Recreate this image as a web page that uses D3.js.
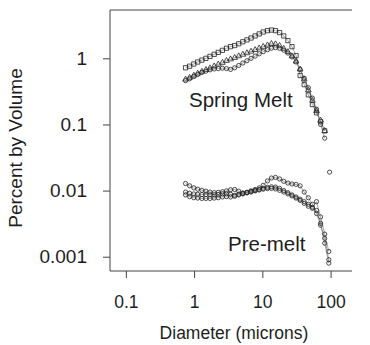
<!DOCTYPE html>
<html>
<head>
<meta charset="utf-8">
<script src="https://cdn.jsdelivr.net/npm/d3@7"></script>
<style>
  html, body { margin: 0; padding: 0; background: #fff; }
  svg { display: block; font-family: "Liberation Sans", Arial, sans-serif; }
</style>
</head>
<body>
<div id="chart"></div>
<script>
// particle diameter bins (microns)
const diameters = [0.75, 0.86, 0.99, 1.13, 1.3, 1.49, 1.71, 1.97, 2.26, 2.6, 2.98, 3.42,
  3.93, 4.51, 5.18, 5.95, 6.83, 7.84, 9.0, 10.3, 11.9, 13.6, 15.6, 17.9, 20.6, 23.7,
  27.2, 31.2, 35.8, 41.1, 47.2, 54.2, 62.2, 71.4, 82.0, 94.2];

// spring melt samples (percent by volume)
const springSquares = [0.72, 0.76, 0.82, 0.88, 0.94, 1.00, 1.07, 1.15, 1.23, 1.32, 1.42, 1.50,
  1.56, 1.66, 1.78, 1.90, 2.03, 2.18, 2.34, 2.50, 2.62, 2.68, 2.62, 2.45, 2.18, 1.85,
  1.50, 1.10, 0.55, 0.40, 0.28, 0.20, 0.15, 0.11, 0.08, null];
const springTriangles = [0.48, 0.51, 0.55, 0.59, 0.63, 0.67, 0.71, 0.76, 0.81, 0.86, 0.92, 0.97,
  1.02, 1.08, 1.14, 1.20, 1.27, 1.34, 1.42, 1.50, 1.58, 1.66, 1.64, 1.55, 1.40, 1.25,
  1.08, 0.90, 0.68, 0.48, 0.33, 0.23, 0.16, 0.115, 0.08, null];
const springCircles = [0.46, 0.49, 0.53, 0.57, 0.61, 0.64, 0.67, 0.69, 0.70, 0.71, 0.70, 0.68,
  0.72, 0.78, 0.85, 0.92, 1.00, 1.08, 1.17, 1.26, 1.35, 1.42, 1.45, 1.42, 1.33, 1.20,
  1.05, 0.88, 0.68, 0.50, 0.36, 0.25, 0.17, 0.10, 0.062, null];
const springOutlier = [{ d: 96.7, v: 0.019 }];

// pre-melt samples
const preA = [0.0128, 0.0118, 0.0110, 0.0105, 0.0101, 0.0098, 0.0095, 0.0093, 0.0094, 0.0096, 0.0099, 0.0103,
  0.0104, 0.0098, 0.0092, 0.0094, 0.0099, 0.0104, 0.0110, 0.0120, 0.0140, 0.0155, 0.0158, 0.0150, 0.0138, 0.0130,
  0.0126, 0.0124, 0.0118, 0.0095, 0.0078, 0.0062, 0.0045, 0.0030, 0.0019, 0.0009];
const preB = [0.0095, 0.0091, 0.0089, 0.0088, 0.0087, 0.0087, 0.0086, 0.0086, 0.0087, 0.0089, 0.0090, 0.0088,
  0.0085, 0.0088, 0.0091, 0.0094, 0.0097, 0.0100, 0.0104, 0.0108, 0.0112, 0.0114, 0.0113, 0.0108, 0.0100, 0.0093,
  0.0086, 0.0080, 0.0074, 0.0068, 0.0062, 0.0056, 0.0068, 0.0040, 0.0022, 0.0012];
const preC = [0.0086, 0.0081, 0.0078, 0.0077, 0.0076, 0.0076, 0.0076, 0.0077, 0.0078, 0.0080, 0.0081, 0.0080,
  0.0082, 0.0086, 0.0089, 0.0092, 0.0095, 0.0099, 0.0102, 0.0105, 0.0107, 0.0108, 0.0106, 0.0101, 0.0095, 0.0089,
  0.0083, 0.0077, 0.0071, 0.0064, 0.0058, 0.0054, 0.0050, 0.0032, 0.0016, 0.0008];

const xTicks = [0.1, 1, 10, 100];
const yTicks = [0.001, 0.01, 0.1, 1];

const W = 370, H = 345;
const plot = { left: 110, right: 352, top: 10, bottom: 271 };
const ink = '#1e1e1e';

const svg = d3.select('#chart').append('svg')
  .attr('width', W).attr('height', H);
svg.append('rect').attr('width', W).attr('height', H).attr('fill', '#fff');

const x = d3.scaleLog().domain([0.0586, 206]).range([plot.left, plot.right]);
const y = d3.scaleLog().domain([0.000608, 5.38]).range([plot.bottom, plot.top]);

// axes
const xAxis = svg.append('g')
  .attr('transform', `translate(0,${plot.bottom})`)
  .call(d3.axisBottom(x).tickValues(xTicks).tickFormat(d3.format('~g')).tickSize(7).tickPadding(18));
const yAxis = svg.append('g')
  .attr('transform', `translate(${plot.left},0)`)
  .call(d3.axisLeft(y).tickValues(yTicks).tickFormat(d3.format('~g')).tickSize(7).tickPadding(16));

[xAxis, yAxis].forEach(g => {
  g.select('.domain').remove();
  g.selectAll('line').attr('stroke', '#444').attr('stroke-width', 1);
  g.selectAll('text').attr('fill', ink).attr('font-family', '"Liberation Sans", Arial, sans-serif');
});
xAxis.selectAll('text').attr('font-size', 17.5);
yAxis.selectAll('text').attr('font-size', 19);

// frame: left, bottom, top
svg.append('path')
  .attr('d', `M${plot.right},${plot.top}H${plot.left}V${plot.bottom}H${plot.right}`)
  .attr('fill', 'none').attr('stroke', '#444').attr('stroke-width', 1);

// titles
svg.append('text')
  .attr('x', 234).attr('y', 339)
  .attr('text-anchor', 'middle').attr('font-size', 17.5).attr('fill', ink)
  .text('Diameter (microns)');
svg.append('text')
  .attr('transform', 'translate(22,148) rotate(-90)')
  .attr('text-anchor', 'middle').attr('font-size', 19).attr('fill', ink)
  .text('Percent by Volume');

svg.append('text').attr('x', 189).attr('y', 107)
  .attr('font-size', 20.5).attr('fill', ink).text('Spring Melt');
svg.append('text').attr('x', 228).attr('y', 251)
  .attr('font-size', 20.5).attr('fill', ink).text('Pre-melt');

// series
const series = [
  { vals: springSquares, shape: 'square' },
  { vals: springTriangles, shape: 'triangle' },
  { vals: springCircles, shape: 'circle' },
  { vals: preA, shape: 'circle' },
  { vals: preB, shape: 'circle' },
  { vals: preC, shape: 'circle' }
];

const line = d3.line()
  .defined(p => p.v != null)
  .x(p => x(p.d)).y(p => y(p.v));

const symbols = {
  square: d3.symbol().type(d3.symbolSquare).size(18),
  triangle: d3.symbol().type(d3.symbolTriangle).size(14),
  circle: d3.symbol().type(d3.symbolCircle).size(14)
};

series.forEach(s => {
  const pts = diameters.map((d, i) => ({ d, v: s.vals[i] }));
  svg.append('path')
    .attr('d', line(pts))
    .attr('fill', 'none').attr('stroke', '#666').attr('stroke-width', 0.6);
  svg.append('g').selectAll('path')
    .data(pts.filter(p => p.v != null))
    .join('path')
    .attr('transform', p => `translate(${x(p.d)},${y(p.v)})`)
    .attr('d', symbols[s.shape]())
    .attr('fill', 'none').attr('stroke', '#222').attr('stroke-width', 0.8);
});

svg.append('g').selectAll('path')
  .data(springOutlier)
  .join('path')
  .attr('transform', p => `translate(${x(p.d)},${y(p.v)})`)
  .attr('d', symbols.circle())
  .attr('fill', 'none').attr('stroke', '#222').attr('stroke-width', 0.8);
</script>
</body>
</html>
